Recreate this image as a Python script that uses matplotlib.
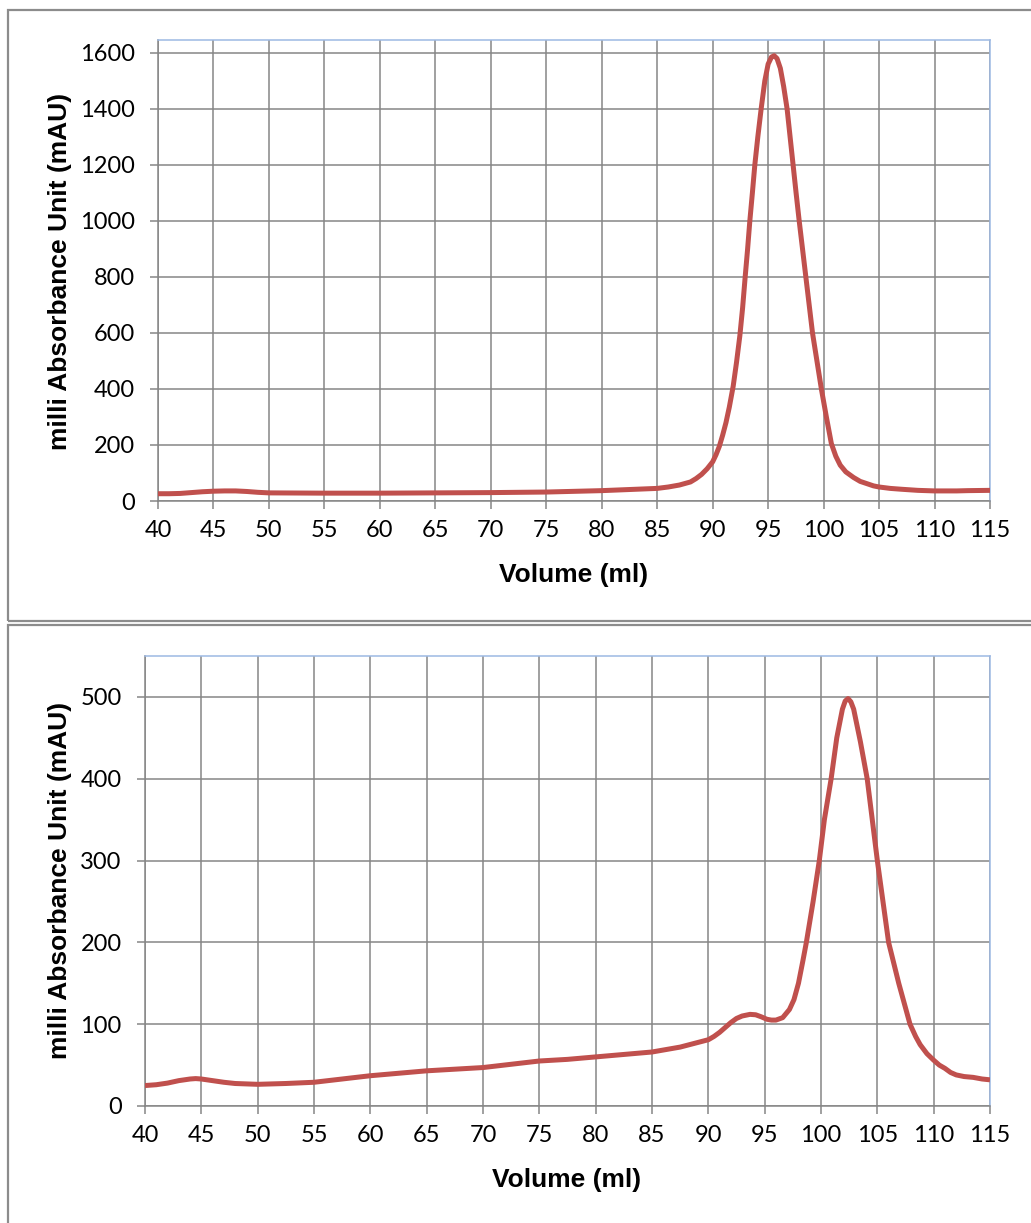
import matplotlib
matplotlib.use("Agg")
import matplotlib.pyplot as plt
from matplotlib.patches import Rectangle

# ---- data ----
top_volume = [40, 41, 42, 43, 44, 45, 46, 47, 48, 49, 50, 55, 60, 65, 70, 75, 80,
              85, 86, 87, 88, 88.5, 89, 89.5, 90, 90.3, 90.6, 90.9, 91.2, 91.5,
              91.85, 92.15, 92.45, 92.7, 92.93, 93.15, 93.35, 93.58, 93.8, 94.07,
              94.37, 94.7, 95.0, 95.3, 95.54, 95.8, 96.1, 96.4, 96.71, 96.98,
              97.25, 97.52, 97.8, 98.1, 98.4, 98.7, 99.0, 99.4, 99.8, 100.25,
              100.7, 101.1, 101.5, 102.0, 102.7, 103.3, 103.9, 104.5, 105, 106,
              107, 108.5, 110, 112, 113, 115]
top_mau = [26, 26, 27, 30, 33, 35, 36, 36, 34, 31, 29, 28, 28, 29, 30, 32, 37,
           45, 50, 57, 68, 80, 95, 115, 140, 165, 195, 235, 280, 335,
           410, 495, 590, 690, 800, 900, 1000, 1100, 1200, 1300,
           1400, 1500, 1560, 1585, 1590, 1580, 1545, 1480, 1400, 1300,
           1200, 1100, 1000, 900, 800, 700, 600, 500, 400, 300,
           205, 160, 128, 104, 84, 70, 62, 54, 50, 45,
           42, 38, 36, 36, 37, 38]

bot_volume = [40, 41, 42, 43, 44, 44.5, 45, 46, 47, 48, 50, 52.5, 55, 57.5, 60,
              62.5, 65, 70, 72.5, 75, 77.5, 80, 82.5, 85, 87.5, 90, 90.5, 91,
              91.5, 92, 92.5, 93, 93.7, 94.2, 94.7, 95.2, 95.6, 96, 96.6, 97.2,
              97.6, 98, 98.4, 98.7, 99.3, 99.85, 100.3, 100.9, 101.4, 101.9,
              102.15, 102.4, 102.65, 102.9, 103.5, 104.1, 104.55, 105.0, 105.5,
              106.0, 106.9, 107.9, 108.4, 108.8, 109.4, 110, 110.5, 111, 111.5,
              112, 112.7, 113.5, 114.3, 115]
bot_mau = [25, 26, 28, 31, 33, 33.5, 33, 31, 29, 27.5, 26.5, 27.5, 29, 33, 37,
           40, 43, 47, 51, 55, 57, 60, 63, 66, 72, 81, 85, 90,
           96, 102, 107, 110, 112, 111.5, 109, 106, 105, 105, 108, 118,
           130, 150, 178, 200, 250, 300, 350, 400, 450, 485,
           495, 498, 494, 485, 445, 400, 350, 300, 250,
           200, 150, 100, 85, 75, 64, 56, 50, 46, 41,
           38, 36, 35, 33, 32]

x_ticks = list(range(40, 116, 5))
top_y_ticks = list(range(0, 1601, 200))
bot_y_ticks = list(range(0, 501, 100))

xlabel = "Volume (ml)"
ylabel = "milli Absorbance Unit (mAU)"

# ---- style ----
W, H = 1031, 1223
GRID = "#868686"
BLUE = "#9DB9E3"
RED = "#C0504D"
TICKFONT = "Lato"
LABELFONT = "Liberation Sans"

fig = plt.figure(figsize=(W / 100, H / 100), dpi=100)
fig.patch.set_facecolor("white")

# outer chart borders
fig.patches.append(Rectangle((8 / W, 1 - 621 / H), 1.2, (621 - 10) / H,
                             transform=fig.transFigure, fill=False,
                             edgecolor="#8c8c8c", lw=1.6))
fig.patches.append(Rectangle((8 / W, -0.2), 1.2, 0.2 + 1 - 625 / H,
                             transform=fig.transFigure, fill=False,
                             edgecolor="#8c8c8c", lw=1.6))


def make_axes(rect_px, xs, ys, yticks, ymax, ylab_center, xlab_center):
    l, t, r, b = rect_px
    ax = fig.add_axes([l / W, 1 - b / H, (r - l) / W, (b - t) / H])
    ax.plot(xs, ys, color=RED, lw=3.6, solid_joinstyle="round",
            solid_capstyle="butt", zorder=3)
    ax.set_xlim(40, 115)
    ax.set_ylim(0, ymax)
    ax.set_xticks(x_ticks)
    ax.set_yticks(yticks)
    ax.grid(True, color=GRID, lw=1.1, zorder=0)
    ax.set_axisbelow(True)
    for s in ("left", "bottom"):
        ax.spines[s].set_color(GRID)
        ax.spines[s].set_linewidth(1.1)
    for s in ("top", "right"):
        ax.spines[s].set_color(BLUE)
        ax.spines[s].set_linewidth(1.1)
    ax.tick_params(axis="both", direction="out", length=5.8, width=1.1,
                   color=GRID, labelsize=17)
    ax.tick_params(axis="x", pad=8)
    ax.tick_params(axis="y", pad=11)
    for lab in ax.get_xticklabels() + ax.get_yticklabels():
        lab.set_fontfamily(TICKFONT)
    fig.text(ylab_center[0] / W, 1 - ylab_center[1] / H, ylabel,
             rotation=90, ha="center", va="center", fontsize=19,
             fontweight="bold", family=LABELFONT)
    fig.text(xlab_center[0] / W, 1 - xlab_center[1] / H, xlabel,
             ha="center", va="center", fontsize=19,
             fontweight="bold", family=LABELFONT)
    return ax


make_axes((158, 40, 990, 501), top_volume, top_mau, top_y_ticks, 1646,
          (60, 271), (574, 575))
make_axes((145, 656, 990, 1106), bot_volume, bot_mau, bot_y_ticks, 550,
          (60, 880), (567, 1180))

fig.savefig("out.png", dpi=100, facecolor="white")
